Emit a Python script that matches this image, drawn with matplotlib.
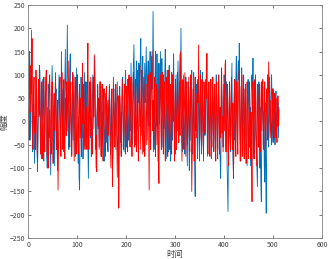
import numpy as np
import matplotlib
matplotlib.use("Agg")
from matplotlib import pyplot as plt

plt.rcParams['font.family'] = ['Noto Sans CJK SC', 'DejaVu Sans']

blue_vals = [
    20, 110, 150, 60, -40, 90, 196, 40, -65, 5, 50, -10, -90, -35, 30, 95,
    40, -15, -108, -60, 25, 70, 15, 110, 35, -45, -80, 20, 90, -5, -40, -85,
    10, 55, 95, 30, -20, -70, -100, 15, 80, 40, -35, 25, -50, -115, -20, 65,
    120, 50, -10, -60, 35, -95, -25, 40, 70, -5, -45, -105, 10, 45, 100, 30,
    -25, -70, 25, 150, 55, -10, 70, -40, -65, 30, 100, 155, 20, -15, 110, 207,
    90, -30, -60, 45, 110, 145, 20, -10, -70, 15, 60, -40, 100, 35, -20, -75,
    5, 60, 115, 30, -30, -90, 10, -120, -147, -40, 25, 95, 50, -35, 20, -80,
    -30, 45, 105, 15, -60, 5, 40, 85, -15, -50, -122, -30, 75, 30, -35, 10,
    -75, -20, 50, 100, 40, -15, 60, 140, 65, -50, -100, 5, 30, 80, -15, 45,
    -60, 20, 85, 35, -30, -75, 20, -40, 70, 10, -25, -85, 15, 60, 25, -45,
    40, -30, -65, 15, 45, 80, -25, -70, 25, 65, 0, -40, -80, 35, 70, 10,
    -30, 40, -60, 15, 50, 85, 30, -35, -75, 40, 75, -10, -45, 20, -55, 55,
    95, 20, -20, -65, 35, 80, 110, 15, -55, 45, 90, -10, -40, 20, 95, 45,
    -20, 125, 60, -15, -50, 85, 130, 165, 80, 0, -50, 85, 130, 60, -15, 110,
    40, 125, -10, 90, 140, 178, 70, -30, 90, 140, 20, -65, 60, 125, 40, 85,
    160, 100, -40, 85, 130, 10, -10, 110, 150, 40, 95, 140, 70, 110, 236, 110,
    30, -60, 95, 150, 20, -10, 145, 60, -85, 50, 125, -5, 60, 150, 90, 20,
    135, 55, -55, 100, 75, -15, 110, 155, 45, -80, 45, 110, -20, -65, 55, 120,
    10, -45, -85, 35, 105, 5, -40, 90, 145, 40, -25, -70, 30, 100, 15, -20,
    60, 130, 40, -45, 95, 145, 85, 200, 80, -45, -65, 30, 100, 15, -20, -70,
    45, 95, -15, -60, -95, 30, 85, -25, -105, 20, 75, -40, 50, 110, -10, -70,
    30, 105, -20, -100, -161, -5, 60, 80, -45, -80, 50, 75, -35, -85, 40, 110,
    -10, -70, 30, 105, -20, -85, 15, 70, -30, 10, 80, 115, 20, -75, 25, 75,
    -25, -70, 50, 90, -30, -80, 30, 95, 0, -50, 40, 75, -10, -60, 55, 100,
    20, -55, -80, 50, 90, 10, -40, -85, -122, -20, 80, 45, -15, -55, 20, 100,
    60, -10, -65, 40, 85, -85, -140, -193, -50, 0, 60, -35, -65, 15, 75, 125,
    -15, -75, -105, 30, 90, -40, 20, 95, 140, 20, -45, 95, 130, 90, 168, 25,
    -40, -85, 45, 115, 0, -60, 55, 95, -25, -70, 35, 80, -15, -55, -95, 25,
    90, 45, -15, -55, 30, -95, 25, 90, 100, 55, 136, 10, -45, -80, 35, 100,
    -5, -60, -100, -140, -20, 45, 85, -40, -100, 30, -130, -172, -10, 55, 75, -50,
    20, -95, -130, 40, -100, -197, -30, 45, 100, -10, -55, 40, 95, 10, -20, 60,
    100, 45, -20, -45, 70, 35, -25, -50, 50, 65, -30, 20, -10, 40, -35, 30,
]

red_vals = [
    30, -40, 80, 120, 20, 95, 60, 178, -20, -60, 50, 95, -25, 10, -60, 110,
    45, -55, -85, 35, 90, 10, 120, 50, -70, -10, 30, 85, -45, -80, 40, 95,
    -10, -65, 20, 75, 110, -25, -75, 30, -100, -40, 80, 100, 35, -30, -70, 50,
    85, -40, -90, 20, 60, -20, 50, 105, 30, -60, -20, 45, -147, -70, 10, 60,
    95, -25, -75, 35, 105, -10, -60, 45, 90, -45, -80, 20, 50, -30, 85, 40,
    -20, 50, 130, 0, -55, 30, 85, -15, -75, 40, 105, 60, -10, -85, 35, 95,
    -15, -70, 20, 75, 100, -40, -70, 45, 80, -35, 50, -25, -75, 50, 125, -5,
    80, -60, -25, 40, 85, -35, 30, -60, 90, 168, 5, -60, 40, 85, -30, 95,
    35, -30, -70, 55, 95, 10, 143, 70, -5, -60, -30, -108, 20, 75, -10, 50,
    -55, 45, 85, -25, -75, 35, 80, -40, -85, 40, 70, 20, -35, -75, 30, 75,
    -10, -60, 45, -30, 30, 75, -10, -60, -100, 15, 70, -140, -60, 95, 40, -20,
    -55, 50, 80, 25, -45, -120, 0, 55, -186, -80, 55, 30, -35, -75, 40, 90,
    50, -15, -60, 35, 80, -20, -70, 30, 75, -15, -65, 25, 85, 100, -20, -55,
    50, 95, -20, -75, 20, 80, 105, -15, -55, 40, 90, -10, -65, 35, 80, -40,
    -85, 30, 85, 120, -60, 10, 70, 110, -70, -20, 40, 95, 55, -75, -40, 25,
    80, -50, 10, 70, 100, -15, -147, 55, 105, -60, 30, 85, 150, -20, 45, -65,
    40, 95, -15, -75, 25, 80, -50, 10, 70, -60, -133, 10, 70, 100, -20, -60,
    55, 105, -10, -70, 30, 85, -20, -85, 15, 70, 95, -30, -75, 40, 110, -10,
    -60, 35, 80, -20, -70, 45, 100, 0, 80, -15, -85, 30, 90, -15, -60, 40,
    105, 5, -45, 35, 85, -30, 150, 70, -15, -85, 30, 90, -15, -60, 40, 105,
    5, -75, 35, 85, -50, -30, 40, 95, -20, -65, 45, 100, -5, -150, -70, 10,
    70, -25, -85, 30, 95, -20, 60, -35, 25, 90, 40, 164, 10, -45, 50, 100,
    -30, -50, 90, 35, -35, -70, 85, 45, -25, 20, 90, 50, 146, -5, -70, 30,
    85, -25, -75, 35, 90, -15, -55, 45, 95, -25, -65, 50, 80, -35, -85, 35,
    85, -10, -60, 40, 100, -5, -70, 30, -35, 60, 115, -25, 10, -65, 40, 80,
    -20, 121, 132, -20, -65, 40, 80, -45, -95, 25, 85, -15, -60, 50, 95, -30,
    -60, 40, -122, -70, 60, 90, -35, -75, 40, 85, -15, -70, 35, 80, 110, -20,
    -85, 25, 75, -25, -75, 45, 100, -15, -80, 30, 70, -40, -90, 20, 85, 40,
    -30, -80, 45, 85, -10, -80, 20, -45, -172, 45, 85, -30, -80, 40, 90, -5,
    -50, -95, 25, 80, -15, -55, 50, 80, -25, -65, 45, 85, -20, 60, 90, 0,
    -60, 30, 85, -15, -50, 35, 70, -10, -40, 40, 128, 60, 15, -35, 45, -20,
    -50, 35, 70, -10, -40, 45, 60, -35, 15, 50, -20, -45, 30, 55, -10, 25,
]

x_ticks = [0, 100, 200, 300, 400, 500, 600]
y_ticks = [-250, -200, -150, -100, -50, 0, 50, 100, 150, 200, 250]

t = np.arange(1, len(blue_vals) + 1)

fig = plt.figure(figsize=(3.31, 2.59), dpi=100)
ax = fig.add_axes([0.085, 0.081, 0.888, 0.9])
ax.plot(t, blue_vals, color="#0072BD", linewidth=0.6)
ax.plot(t, red_vals, color="#FF0000", linewidth=0.6)

ax.set_xlim(0, 600)
ax.set_ylim(-250, 250)
ax.set_xticks(x_ticks)
ax.set_yticks(y_ticks)
ax.tick_params(direction="in", top=True, right=True, labelsize=5,
               length=2.5, width=0.5, colors="#404040", pad=2)
for s in ax.spines.values():
    s.set_linewidth(0.6)
    s.set_color("#808080")
ax.set_xlabel("时间", fontsize=6, labelpad=1, color="#404040")
ax.set_ylabel("幅度", fontsize=6, labelpad=1, color="#404040")

fig.savefig("out.png", dpi=100)
